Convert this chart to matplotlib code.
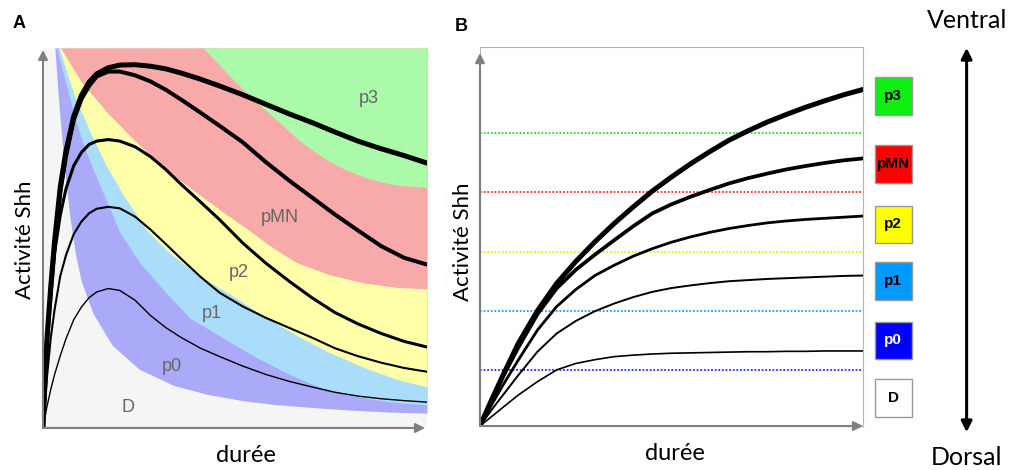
import matplotlib.pyplot as plt
from matplotlib.patches import Rectangle, FancyArrowPatch

# ---- panel A : courbes d'activite (x = duree, y = activite Shh)
xa = [0, 0.01, 0.02, 0.03, 0.045, 0.06, 0.08, 0.1, 0.12, 0.14, 0.17, 0.2, 0.24, 0.28,
      0.32, 0.36, 0.41, 0.46, 0.52, 0.58, 0.64, 0.7, 0.76, 0.82, 0.88, 0.94, 1.0]
a_curve1 = [0, 0.055, 0.10, 0.14, 0.19, 0.235, 0.285, 0.318, 0.343, 0.358, 0.367, 0.362,
            0.336, 0.296, 0.264, 0.238, 0.21, 0.188, 0.163, 0.141, 0.123, 0.108, 0.094,
            0.084, 0.077, 0.072, 0.068]
a_curve2 = [0, 0.13, 0.235, 0.31, 0.40, 0.455, 0.51, 0.543, 0.565, 0.577, 0.582, 0.578,
            0.556, 0.522, 0.484, 0.445, 0.398, 0.356, 0.32, 0.29, 0.264, 0.238, 0.21,
            0.189, 0.172, 0.158, 0.148]
a_curve3 = [0, 0.22, 0.37, 0.46, 0.56, 0.63, 0.69, 0.725, 0.746, 0.755, 0.759, 0.755,
            0.74, 0.714, 0.68, 0.641, 0.595, 0.548, 0.487, 0.434, 0.387, 0.343, 0.304,
            0.274, 0.249, 0.228, 0.213]
a_curve4 = [0, 0.22, 0.35, 0.47, 0.62, 0.715, 0.81, 0.865, 0.9, 0.925, 0.938, 0.938,
            0.928, 0.912, 0.89, 0.864, 0.83, 0.795, 0.752, 0.70, 0.652, 0.607, 0.562,
            0.52, 0.479, 0.448, 0.43]
a_curve5 = [0, 0.23, 0.37, 0.49, 0.635, 0.73, 0.82, 0.875, 0.91, 0.932, 0.948, 0.955,
            0.956, 0.952, 0.945, 0.934, 0.918, 0.9, 0.877, 0.852, 0.827, 0.804, 0.779,
            0.755, 0.735, 0.717, 0.697]
a_widths = [1.0, 1.5, 2.2, 2.9, 3.6]

# limites des domaines (bord inferieur de chaque domaine)
x_p0 = [0.031, 0.04, 0.05, 0.06, 0.07, 0.085, 0.1, 0.13, 0.18, 0.25, 0.34, 0.43, 0.52,
        0.6, 0.7, 0.8, 0.9, 1.0]
y_p0 = [1.0, 0.87, 0.75, 0.645, 0.555, 0.455, 0.385, 0.302, 0.218, 0.155, 0.112, 0.088,
        0.072, 0.062, 0.054, 0.047, 0.042, 0.039]
x_p1 = [0.036, 0.06, 0.079, 0.1, 0.122, 0.166, 0.2, 0.253, 0.322, 0.383, 0.47, 0.557,
        0.643, 0.72, 0.8, 0.88, 0.95, 1.0]
y_p1 = [1.0, 0.905, 0.832, 0.762, 0.701, 0.596, 0.515, 0.433, 0.354, 0.289, 0.236, 0.185,
        0.140, 0.108, 0.086, 0.072, 0.064, 0.061]
x_p2 = [0.042, 0.08, 0.122, 0.165, 0.209, 0.27, 0.33, 0.4, 0.44, 0.487, 0.574, 0.661,
        0.747, 0.834, 0.921, 1.0]
y_p2 = [1.0, 0.88, 0.78, 0.69, 0.613, 0.52, 0.46, 0.405, 0.38, 0.352, 0.295, 0.243,
        0.198, 0.160, 0.128, 0.108]
x_pmn = [0.046, 0.1, 0.166, 0.23, 0.296, 0.357, 0.426, 0.487, 0.53, 0.574, 0.617, 0.661,
         0.747, 0.834, 0.921, 1.0]
y_pmn = [1.0, 0.91, 0.832, 0.765, 0.701, 0.652, 0.60, 0.555, 0.525, 0.492, 0.462, 0.435,
         0.403, 0.382, 0.370, 0.366]
x_p3 = [0.417, 0.45, 0.487, 0.53, 0.574, 0.62, 0.661, 0.705, 0.747, 0.79, 0.834, 0.88,
        0.921, 1.0]
y_p3 = [1.0, 0.965, 0.925, 0.882, 0.841, 0.8, 0.762, 0.728, 0.701, 0.679, 0.661, 0.648,
        0.639, 0.633]
zone_colors = ['#aaaaf8', '#aaddfa', '#ffffaa', '#f8aaaa', '#aafaaa']

a_labels = ['p3', 'pMN', 'p2', 'p1', 'p0', 'D']
a_label_x = [0.848, 0.617, 0.509, 0.439, 0.335, 0.222]
a_label_y = [0.868, 0.555, 0.410, 0.300, 0.163, 0.053]

# ---- panel B
xB = [0, 0.03, 0.06, 0.1, 0.15, 0.2, 0.25, 0.3, 0.35, 0.4, 0.45, 0.5, 0.55, 0.6, 0.65,
      0.7, 0.75, 0.8, 0.85, 0.9, 0.95, 1.0]
b_curve1 = [0, 0.0246, 0.0492, 0.0817, 0.117, 0.148, 0.165, 0.175, 0.183, 0.187, 0.190,
            0.192, 0.193, 0.194, 0.195, 0.196, 0.196, 0.197, 0.197, 0.198, 0.198, 0.198]
b_curve2 = [0, 0.0422, 0.0817, 0.134, 0.196, 0.244, 0.277, 0.303, 0.323, 0.340, 0.354,
            0.364, 0.371, 0.377, 0.382, 0.385, 0.388, 0.390, 0.392, 0.394, 0.396, 0.397]
b_curve3 = [0, 0.0554, 0.108, 0.174, 0.253, 0.315, 0.360, 0.397, 0.424, 0.448, 0.468,
            0.485, 0.499, 0.511, 0.521, 0.529, 0.536, 0.541, 0.545, 0.548, 0.551, 0.554]
b_curve4 = [0, 0.0668, 0.130, 0.207, 0.295, 0.363, 0.412, 0.452, 0.490, 0.527, 0.561,
            0.585, 0.605, 0.623, 0.640, 0.654, 0.666, 0.677, 0.686, 0.694, 0.701, 0.706]
b_curve5 = [0, 0.0685, 0.134, 0.218, 0.304, 0.376, 0.434, 0.486, 0.534, 0.578, 0.620,
            0.657, 0.692, 0.724, 0.754, 0.779, 0.802, 0.822, 0.841, 0.858, 0.874, 0.888]
b_widths = [1.2, 1.4, 2.0, 2.7, 3.6]

seuils = [0.772, 0.617, 0.460, 0.304, 0.148]
seuil_colors = ['#22dd22', '#ff2a2a', '#eeee00', '#2299ff', '#2a2aff']

box_labels = ['p3', 'pMN', 'p2', 'p1', 'p0', 'D']
box_y = [0.871, 0.691, 0.532, 0.383, 0.226, 0.074]
box_colors = ['#11ee11', '#ff0000', '#ffff00', '#0099ff', '#0000ff', '#ffffff']
box_text_colors = ['black', 'black', 'black', 'black', 'white', 'black']

fig = plt.figure(figsize=(10.09, 4.70), dpi=100)
lab_font = 'Lato'

def axis_arrows(ax, top, right):
    for tip in [(0, top), (right, 0)]:
        ax.annotate('', xy=tip, xytext=(0, 0), annotation_clip=False,
                    arrowprops=dict(arrowstyle='-|>', color='#7f7f7f', lw=1.5,
                                    mutation_scale=14, shrinkA=0, shrinkB=0))

# Panel A
axA = fig.add_axes([0.0426, 0.0894, 0.3806, 0.8085])
axA.set_facecolor('#f5f5f5')
for xs, ys, col in zip([x_p0, x_p1, x_p2, x_pmn, x_p3], [y_p0, y_p1, y_p2, y_pmn, y_p3],
                       zone_colors):
    axA.fill_between(xs, ys, 1.0, color=col, lw=0)
for c, w in zip([a_curve1, a_curve2, a_curve3, a_curve4, a_curve5], a_widths):
    axA.plot(xa, c, color='black', lw=w, solid_capstyle='round', solid_joinstyle='round')
for t, x, y in zip(a_labels, a_label_x, a_label_y):
    axA.text(x, y, t, color='#666666', fontsize=13, ha='center', va='center',
             family='Liberation Sans')
axA.set_xlim(0, 1)
axA.set_ylim(0, 1)
axA.set_xticks([])
axA.set_yticks([])
for s in axA.spines.values():
    s.set_visible(False)
axis_arrows(axA, 0.995, 0.995)

# Panel B
axB = fig.add_axes([0.4757, 0.0936, 0.3796, 0.8064])
for y, col in zip(seuils, seuil_colors):
    axB.axhline(y, color=col, lw=1.3, linestyle=(0, (1, 1)))
for c, w in zip([b_curve1, b_curve2, b_curve3, b_curve4, b_curve5], b_widths):
    axB.plot(xB, c, color='black', lw=w, solid_capstyle='round', solid_joinstyle='round')
axB.set_xlim(0, 1)
axB.set_ylim(0, 1)
axB.set_xticks([])
axB.set_yticks([])
for s in axB.spines.values():
    s.set_color('#b5b5b5')
axis_arrows(axB, 0.984, 1.0)

for t, y, col, tc in zip(box_labels, box_y, box_colors, box_text_colors):
    axB.add_patch(Rectangle((1.031, y - 0.0495), 0.0966, 0.099, transform=axB.transAxes,
                            facecolor=col, edgecolor='#999999', lw=1, clip_on=False))
    axB.text(1.079, y, t, transform=axB.transAxes, ha='center', va='center',
             fontsize=11, fontweight='bold', color=tc, family='Liberation Sans')

# textes
fig.text(0.012, 0.94, 'A', fontsize=13, fontweight='bold', family='Liberation Sans')
fig.text(0.451, 0.935, 'B', fontsize=13, fontweight='bold', family='Liberation Sans')
fig.text(0.025, 0.49, 'Activité Shh', rotation=90, fontsize=16, ha='center', va='center',
         family=lab_font)
fig.text(0.459, 0.485, 'Activité Shh', rotation=90, fontsize=16, ha='center', va='center',
         family=lab_font)
fig.text(0.244, 0.03, 'durée', fontsize=17, ha='center', va='center', family=lab_font)
fig.text(0.669, 0.035, 'durée', fontsize=17, ha='center', va='center', family=lab_font)
fig.text(0.958, 0.957, 'Ventral', fontsize=18, ha='center', va='center', family=lab_font)
fig.text(0.958, 0.026, 'Dorsal', fontsize=18, ha='center', va='center', family=lab_font)
fig.add_artist(FancyArrowPatch((0.958, 0.0745), (0.958, 0.904), transform=fig.transFigure,
                               arrowstyle='<|-|>', mutation_scale=16, lw=2.2, color='black'))

fig.savefig('out.png', dpi=100)
